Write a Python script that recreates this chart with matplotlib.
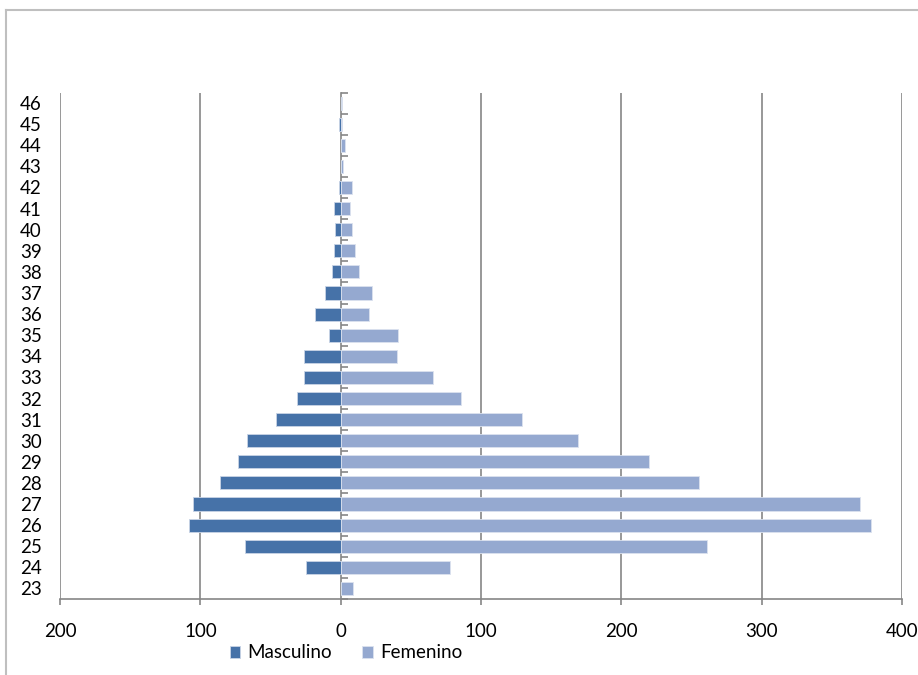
import numpy as np
import matplotlib.pyplot as plt
from matplotlib.lines import Line2D

plt.rcParams['font.family'] = ['Lato', 'DejaVu Sans']

edades = [23, 24, 25, 26, 27, 28, 29, 30, 31, 32, 33, 34,
          35, 36, 37, 38, 39, 40, 41, 42, 43, 44, 45, 46]
masculino = [0, 25, 68, 108, 105, 86, 73, 67, 46, 31, 26, 26,
             8, 18, 11, 6, 5, 4, 5, 1, 0, 0, 1, 0]
femenino = [9, 78, 261, 378, 370, 255, 220, 169, 129, 86, 66, 40,
            41, 20, 22, 13, 10, 8, 7, 8, 2, 3, 1, 1]
xticks = [-200, -100, 0, 100, 200, 300, 400]

c_masc = "#4672A8"
c_fem = "#95A9D0"
gris = "#868686"

fig = plt.figure(figsize=(9.18, 6.75), dpi=100)
ax = fig.add_axes([60/918, 1 - 599/675, 842/918, 506.5/675])

y = np.arange(len(edades))
ax.barh(y, -np.array(masculino), height=0.62, color=c_masc, edgecolor="#c9d4e6", linewidth=0.6, label="Masculino", zorder=3)
ax.barh(y, femenino, height=0.62, color=c_fem, edgecolor="#dbe2ef", linewidth=0.6, label="Femenino", zorder=3)

ax.set_xlim(-200, 400)
ax.set_ylim(-0.5, len(edades) - 0.5)

# gridlines (no line at 0, that is the axis)
for v in xticks:
    if v != 0:
        ax.axvline(v, color=gris, lw=1.2, zorder=1)

ax.set_xticks(xticks)
ax.set_xticklabels([str(abs(v)) for v in xticks])
ax.set_yticks(y)
ax.set_yticklabels([str(e) for e in edades])
ax.tick_params(axis="y", length=0, pad=13, labelsize=13.5)
ax.tick_params(axis="x", direction="out", length=4, width=1.2, color=gris, pad=13, labelsize=13.5)

for s in ["left", "right", "top"]:
    ax.spines[s].set_visible(False)
ax.spines["bottom"].set_color(gris)
ax.spines["bottom"].set_linewidth(1.2)

# category axis at zero, ticks between categories
sec = ax.secondary_yaxis(200/600)
sec.set_yticks(np.arange(len(edades) + 1) - 0.5)
sec.set_yticklabels([])
sec.tick_params(direction="in", length=5, width=1.2, color=gris)
sec.spines["left"].set_color(gris)
sec.spines["left"].set_linewidth(1.2)

ax.legend(loc="center", bbox_to_anchor=(346/918, 22/675), bbox_transform=fig.transFigure,
          ncol=2, frameon=False, fontsize=13.5, handlelength=0.55, handleheight=0.55,
          handletextpad=0.4, columnspacing=1.6)

# chart border
bx = 6/918
by = 1 - 10/675
fig.add_artist(Line2D([bx, 1], [by, by], color="#BFBFBF", lw=1.5))
fig.add_artist(Line2D([bx, bx], [0, by], color="#BFBFBF", lw=1.5))

fig.savefig("out.png", dpi=100)
